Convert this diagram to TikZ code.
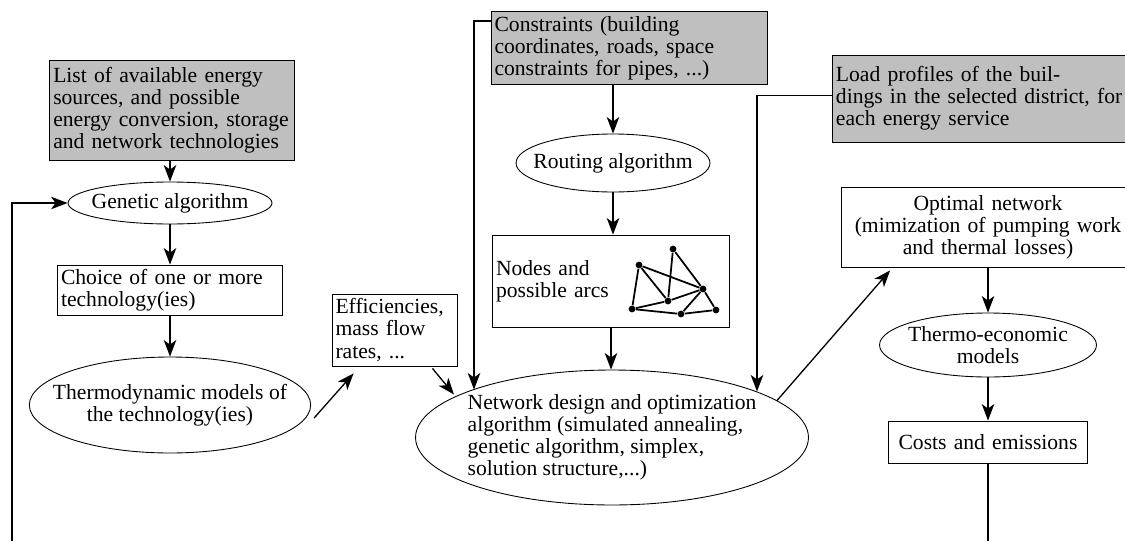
\documentclass[tikz,border=0pt]{standalone}
\usepackage{fontspec}
\setmainfont{Liberation Serif}
\usetikzlibrary{shapes.geometric,arrows.meta,calc}
\tikzset{input box/.style={rectangle,draw,fill=gray!50,align=left,inner xsep=2pt,inner ysep=1pt,font=\fontsize{12.3}{12.6}\selectfont},
         task box/.style={rectangle,draw,fill=white,align=left,inner xsep=2pt,inner ysep=1pt,font=\fontsize{12.3}{12.6}\selectfont},
         algo node/.style={ellipse,draw,align=center,inner xsep=-10pt,inner ysep=-4pt,font=\fontsize{12.3}{12.6}\selectfont},
         arc dot/.style={circle,fill=black,minimum size=1.35mm,inner sep=0pt},
         arc line/.style={line width=1pt},
         flow/.style={-{Stealth[length=3.3mm,width=2.5mm,inset=0.9mm]},line width=0.75pt}
}

\begin{document}
\begin{tikzpicture}[x=0.02cm,y=-0.02cm,line width=0.5pt]
    \useasboundingbox (0,0) rectangle (1125,541);

    % left column
    \node[input box,text width=4.75cm,minimum height=2cm] (sources) at (172,110)
        {List of available energy\\sources, and possible\\energy conversion, storage\\and network technologies};
    \node[algo node,minimum width=4.08cm,minimum height=0.84cm] (genetic) at (170,203) {Genetic algorithm};
    \node[task box,text width=4.36cm,minimum height=1cm] (choice) at (170,290)
        {Choice of one or more\\technology(ies)};
    \node[algo node,minimum width=5.56cm,minimum height=1.92cm] (thermo) at (170,405)
        {Thermodynamic models of\\the technology(ies)};
    \node[task box,text width=2.36cm,minimum height=1.44cm] (effic) at (394.5,330)
        {Efficiencies,\\mass flow\\rates, ...};

    % middle column
    \node[input box,text width=5.38cm,minimum height=1.46cm] (constr) at (629,48)
        {Constraints (building\\coordinates, roads, space\\constraints for pipes, ...)};
    \node[algo node,minimum width=3.88cm,minimum height=1.16cm] (routing) at (613,163) {Routing algorithm};
    \node[task box,text width=4.6cm,minimum height=1.84cm] (nodesbox) at (611,281)
        {Nodes and\\possible arcs};
    \node[algo node,align=left,minimum width=7.86cm,minimum height=2.7cm] (netdesign) at (612,437.5)
        {Network design and optimization\\algorithm (simulated annealing,\\genetic algorithm, simplex,\\solution structure,...)};

    % right column
    \node[input box,anchor=west,text width=5.9cm,minimum height=1.74cm] (load) at (832,98.5)
        {Load profiles of the buil-\\dings in the selected district, for\\each energy service};
    \node[task box,align=center,text width=5.72cm,minimum height=1.6cm] (optimal) at (988,227)
        {Optimal network\\(mimization of pumping work\\and thermal losses)};
    \node[algo node,minimum width=4.34cm,minimum height=1.28cm] (thermoeco) at (988,345)
        {Thermo-economic\\models};
    \node[task box,align=center,text width=3.84cm,minimum height=0.84cm] (costs) at (988,442)
        {Costs and emissions};

    % little graph of nodes and arcs
    \foreach \n/\dx/\dy in {a/62/-32,b/28/-16,c/92/8,d/57/20,e/21/28,f/70/33,g/105/29}
        \node[arc dot] (g\n) at ($(nodesbox.center)+(\dx,\dy)$) {};
    \foreach \u/\v in {b/e,b/d,b/c,a/d,a/c,c/g,d/c,e/d,e/f,f/g,f/c}
        \draw[arc line] (g\u) -- (g\v);

    \coordinate (loopstart) at (12,541);
    \coordinate (loopend) at (988,541);

    \draw[flow] (sources.south -| genetic.north) -- (genetic.north);
    \draw[flow] (loopstart) |- (genetic.west);
    \draw[flow] (genetic.south) -- (choice.north);
    \draw[flow] (choice.south) -- (thermo.north);
    \draw[flow] ($(thermo.east)+(3,13)$) -- ($(effic.south west)+(22,7)$);
    \draw[flow] ($(effic.south east)+(-25,2)$) -- ($(netdesign.center)+(-158,-43)$);
    \draw[flow] ($(constr.north west)+(0,10)$) -| ($(netdesign.center)+(-138,-48)$);
    \draw[flow] (constr.south -| routing.north) -- (routing.north);
    \draw[flow] (routing.south) -- (routing.south |- nodesbox.north);
    \draw[flow] (nodesbox.south) -- (nodesbox.south |- netdesign.north);
    \draw[flow] ($(load.west)+(0,-3)$) -| ($(netdesign.center)+(145,-46)$);
    \draw[flow] ($(netdesign.center)+(165,-37)$) -- ($(optimal.south west)+(49,3)$);
    \draw[flow] (optimal.south) -- (thermoeco.north);
    \draw[flow] (thermoeco.south) -- (costs.north);
    \draw[line width=0.75pt] (costs.south) -- (loopend);

\end{tikzpicture}
\end{document}
